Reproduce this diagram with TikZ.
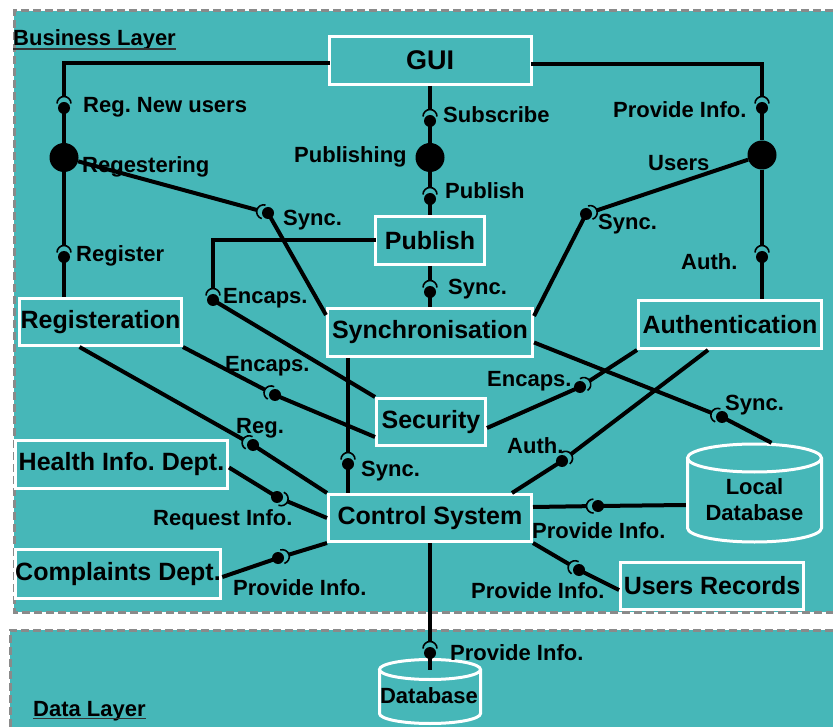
\documentclass[tikz,border=0pt]{standalone}
\usepackage{fontspec}
\setmainfont{Liberation Sans}
\usetikzlibrary{calc}
\definecolor{teal1}{HTML}{46B7B8}
\definecolor{dgray}{HTML}{8A8A8A}
\frenchspacing
\newcommand\bsock[3]{%
 \draw[conn] let \p1=($(#1)-(#2)$), \n1={atan2(\y1,\x1)} in (#1) -- ($(#2)+(\n1:11.5pt)$);
 \draw[conn] (#2) -- (#3);
 \fill (#2) circle[radius=6pt];
 \draw[sock] let \p1=($(#1)-(#2)$), \n1={atan2(\y1,\x1)}, \n2={\n1-90}, \n3={\n1+90} in
   ($(#2)+(\n1:4.5pt)+(\n2:7pt)$) arc[start angle=\n2, end angle=\n3, radius=7pt];
}
\begin{document}
\begin{tikzpicture}[x=1pt,y=-1pt,
  conn/.style={line width=4pt, black},
  sock/.style={line width=1.6pt, black},
  box/.style={draw=white, line width=3pt, fill=teal1, inner sep=0pt, font=\fontsize{25}{30}\selectfont\bfseries},
  lbl/.style={anchor=base west, inner sep=0pt, font=\fontsize{22}{26}\selectfont\bfseries},
  ctxt/.style={inner sep=0pt, align=center, font=\fontsize{22}{26}\selectfont\bfseries},
  jdot/.style={circle, fill=black, minimum size=29pt, inner sep=0pt},
  cyl/.style={draw=white, line width=3pt},
  layer/.style={dgray, line width=3pt, dash pattern=on 8pt off 4pt}]
\useasboundingbox (0,0) rectangle (833,727);
\fill[white] (0,0) rectangle (833,727);
% layers
\fill[teal1] (14,11) rectangle (845,612);
\draw[layer] (845,11) -- (14,11) -- (14,612) -- (845,612);
\fill[teal1] (10,630) rectangle (845,740);
\draw[layer] (845,630) -- (10,630) -- (10,740);
\node[lbl] (bl) at (13,46) {Business Layer};
\draw[line width=1.3pt, black!80] ([yshift=-3pt]bl.base west) -- ([yshift=-3pt]bl.base east);
\node[lbl] (dl) at (33,716) {Data Layer};
\draw[line width=1.3pt, black!80] ([yshift=-2.5pt]dl.base west) -- ([yshift=-2.5pt]dl.base east);
% boxes
\node[box, minimum width=202pt, minimum height=48pt] (gui) at (430,60.5) {\fontsize{27}{30}\selectfont GUI};
\node[box, minimum width=109pt, minimum height=48pt] (pub) at (430,240.5) {Publish};
\node[box, minimum width=205pt, minimum height=48pt] (sync) at (430,332.5) {Synchronisation};
\node[box, minimum width=162pt, minimum height=47pt] (reg) at (100.5,322) {Registeration};
\node[box, minimum width=183pt, minimum height=48pt] (auth) at (730,324.5) {Authentication};
\node[box, minimum width=109pt, minimum height=47pt] (sec) at (431,422) {Security};
\node[box, minimum width=203pt, minimum height=47pt] (ctrl) at (430,518) {Control System};
\node[box, minimum width=212pt, minimum height=48pt] (health) at (121.5,464.5) {Health Info. Dept.};
\node[box, minimum width=205pt, minimum height=49pt] (comp) at (118,574) {Complaints Dept.};
\node[box, minimum width=183pt, minimum height=47pt] (ur) at (712,586) {Users Records};
% cylinders
\draw[cyl] (754.5,458) ellipse[x radius=67pt, y radius=14pt];
\draw[cyl] (687.5,458) -- (687.5,528) arc[start angle=180, end angle=360, x radius=67pt, y radius=14pt] -- (821.5,458);
\node[inner sep=0pt, minimum width=137pt, minimum height=100pt] (ldb) at (754.5,493) {};
\node[ctxt] (ldbt) at (754.5,499.5) {Local\\Database};
\draw[cyl] (430,669.5) ellipse[x radius=50.5pt, y radius=10pt];
\draw[cyl] (379.5,669.5) -- (379.5,713.5) arc[start angle=180, end angle=360, x radius=50.5pt, y radius=10pt] -- (480.5,669.5);
\node[inner sep=0pt, minimum width=101pt, minimum height=67pt] (db) at (430,691.5) {};
\node[lbl, anchor=base] (dbt) at (429,703) {Database};
% junction dots
\node[jdot] (regdot) at (64,157.5) {};
\node[jdot] (pubdot) at (430,157.5) {};
\node[jdot] (usersdot) at (762,155) {};
% ball coordinates
\coordinate (b1) at (64,108);
\coordinate (b2) at (64,257);
\coordinate (b3) at (268,213);
\coordinate (b4) at (213,300);
\coordinate (b5) at (275,395);
\coordinate (b6) at (253,445);
\coordinate (b7) at (277,497);
\coordinate (b8) at (278,558);
\coordinate (b9) at (348,464);
\coordinate (b10) at (430,121);
\coordinate (b11) at (430,199);
\coordinate (b12) at (430,292);
\coordinate (b13) at (762,108);
\coordinate (b14) at (586,214);
\coordinate (b15) at (762,257);
\coordinate (b16) at (722,417);
\coordinate (b17) at (580,387);
\coordinate (b18) at (562,461);
\coordinate (b19) at (598,506);
\coordinate (b20) at (579,570);
\coordinate (b21) at (430,653);
% end points
\coordinate (g1) at ([yshift=-3pt]gui.west);
\coordinate (c1) at (g1 -| regdot);
\coordinate (t2) at (reg.north -| regdot);
\coordinate (t3) at ([yshift=-8pt]sync.north west);
\coordinate (c4) at (pub.west -| b4);
\coordinate (s5) at (reg.south east);
\coordinate (t5) at ([yshift=10pt]sec.south west);
\coordinate (s6) at ([xshift=-21pt]reg.south);
\coordinate (t6) at (ctrl.north west);
\coordinate (s7) at (ctrl.west);
\coordinate (t7) at ([yshift=-3pt]health.east);
\coordinate (s8) at (ctrl.south west);
\coordinate (t8) at ([yshift=-3pt]comp.east);
\coordinate (s9) at ([xshift=-82pt]sync.south);
\coordinate (t9) at (ctrl.north -| b9);
\coordinate (g13) at ([yshift=-4pt]gui.east);
\coordinate (c13) at (g13 -| usersdot);
\coordinate (t14) at ([yshift=-9pt]sync.north east);
\coordinate (t15) at (auth.north -| usersdot);
\coordinate (s16) at ([yshift=-10pt]sync.east);
\coordinate (t16) at ([xshift=17pt]ldb.north);
\coordinate (s17) at (auth.south west);
\coordinate (t17) at ([yshift=-6pt]sec.east);
\coordinate (s18) at ([xshift=-22pt]auth.south);
\coordinate (t18) at ([xshift=82pt]ctrl.north);
\coordinate (s19) at ([yshift=11pt]ctrl.east);
\coordinate (t19) at ([yshift=-12pt]ldb.west);
\coordinate (s20) at (ctrl.south east);
\coordinate (t20) at ([yshift=-4pt]ur.west);
\coordinate (s21) at (ctrl.south);
\coordinate (t21) at ([yshift=-12pt]db.north);
% connectors
\draw[conn, line cap=rect] (g1) -- (c1);
\bsock{c1}{b1}{regdot}
\bsock{regdot}{b2}{t2}
\bsock{regdot}{b3}{t3}
\draw[conn, line cap=rect] (pub.west) -- (c4);
\bsock{c4}{b4}{sec.north west}
\bsock{s5}{b5}{t5}
\bsock{s6}{b6}{t6}
\bsock{s7}{b7}{t7}
\bsock{s8}{b8}{t8}
\bsock{s9}{b9}{t9}
\bsock{gui.south}{b10}{pubdot}
\bsock{pubdot}{b11}{pub.north}
\bsock{pub.south}{b12}{sync.north}
\draw[conn, line cap=rect] (g13) -- (c13);
\bsock{c13}{b13}{usersdot}
\bsock{usersdot}{b14}{t14}
\bsock{usersdot}{b15}{t15}
\bsock{s16}{b16}{t16}
\bsock{s17}{b17}{t17}
\bsock{s18}{b18}{t18}
\bsock{s19}{b19}{t19}
\bsock{s20}{b20}{t20}
\bsock{s21}{b21}{t21}
% labels
\node[lbl] (l1) at (83,113) {Reg. New users};
\node[lbl] (l2) at (82,173) {Regestering};
\node[lbl] (l3) at (294,163) {Publishing};
\node[lbl] (l4) at (283,226) {Sync.};
\node[lbl] (l5) at (443,123) {Subscribe};
\node[lbl] (l6) at (445,199) {Publish};
\node[lbl] (l7) at (613,118) {Provide Info.};
\node[lbl] (l8) at (648,171) {Users};
\node[lbl] (l9) at (598,230) {Sync.};
\node[lbl] (l10) at (76,262) {Register};
\node[lbl] (l11) at (223,304) {Encaps.};
\node[lbl] (l12) at (225,372) {Encaps.};
\node[lbl] (l13) at (236,433) {Reg.};
\node[lbl] (l14) at (448,295) {Sync.};
\node[lbl] (l15) at (681,270) {Auth.};
\node[lbl] (l16) at (487,386) {Encaps.};
\node[lbl] (l17) at (725,410) {Sync.};
\node[lbl] (l18) at (507,453) {Auth.};
\node[lbl] (l19) at (361,476) {Sync.};
\node[lbl] (l20) at (153,525) {Request Info.};
\node[lbl] (l21) at (233,595) {Provide Info.};
\node[lbl] (l22) at (532,538) {Provide Info.};
\node[lbl] (l23) at (471,598) {Provide Info.};
\node[lbl] (l24) at (450,660) {Provide Info.};
\end{tikzpicture}
\end{document}
